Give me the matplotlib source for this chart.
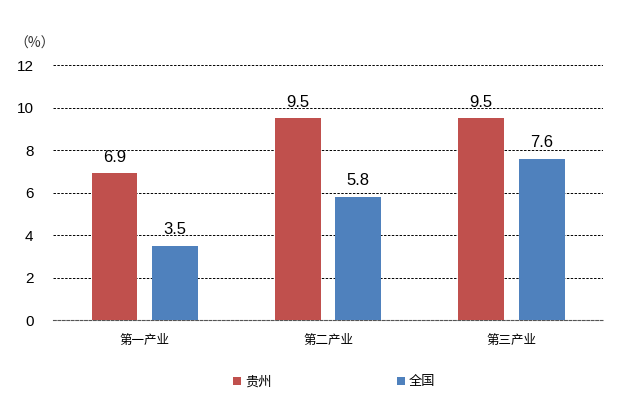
import matplotlib
matplotlib.use("Agg")
import matplotlib.pyplot as plt
import numpy as np

plt.rcParams['font.family'] = ['Noto Sans CJK SC', 'DejaVu Sans']

categories = ["第一产业", "第二产业", "第三产业"]
guizhou = [6.9, 9.5, 9.5]
national = [3.5, 5.8, 7.6]
series_names = ["贵州", "全国"]

red = "#C0504D"
blue = "#4F81BD"

fig = plt.figure(figsize=(6.31, 4.12), dpi=100)
ax = fig.add_axes([0.084, 0.223, 0.872, 0.619])

x = np.arange(len(categories))
w = 0.25
off = 0.165
b1 = ax.bar(x - off, guizhou, w, color=red, label=series_names[0], zorder=3)
b2 = ax.bar(x + off, national, w, color=blue, label=series_names[1], zorder=3)

for bars, vals in ((b1, guizhou), (b2, national)):
    for r, v in zip(bars, vals):
        ax.text(r.get_x() + r.get_width() / 2, v + 0.4, f"{v:.1f}",
                ha="center", va="bottom", fontsize=12, family="Liberation Sans")

ax.set_xlim(-0.5, 2.5)
ax.set_ylim(0, 12)
ax.set_yticks(range(0, 13, 2))
ax.set_yticklabels([str(t) for t in range(0, 13, 2)], fontsize=11, family="Liberation Sans")
ax.set_xticks(x)
ax.set_xticklabels(categories, fontsize=9)
ax.tick_params(axis="both", length=0)
ax.tick_params(axis="y", pad=14)
ax.tick_params(axis="x", pad=10)

ax.yaxis.grid(True, linestyle=(0, (2.5, 1.5)), color="black", linewidth=0.7, zorder=0)
for s in ("top", "right", "left"):
    ax.spines[s].set_visible(False)
ax.spines["bottom"].set_linestyle((0, (2.5, 1.5)))
ax.spines["bottom"].set_color("#555555")
ax.spines["bottom"].set_linewidth(0.8)

fig.text(0.022, 0.895, "（%）", fontsize=10, color="#333333", va="center")

fig.legend(handles=[b1, b2], labels=series_names, loc="center",
           bbox_to_anchor=(0.53, 0.073), ncol=2, frameon=False, fontsize=9.5,
           handlelength=0.6, handleheight=0.6, handletextpad=0.3, columnspacing=9.5)

fig.savefig("out.png", dpi=100)
